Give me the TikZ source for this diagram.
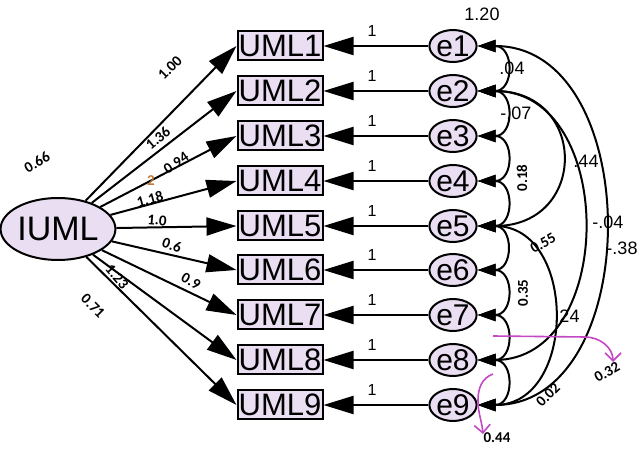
\documentclass[tikz,border=0pt]{standalone}
\usepackage{fontspec}
\setmainfont{Liberation Sans}
\newfontfamily\calib{Carlito}
\usetikzlibrary{arrows.meta,shapes.geometric}

\definecolor{latfill}{RGB}{234,222,242}
\definecolor{annot}{RGB}{196,72,196}
\definecolor{faint}{RGB}{190,120,60}

\begin{document}
\begin{tikzpicture}[x=0.5pt,y=-0.5pt,
    obs/.style={draw,line width=1pt,fill=latfill,minimum width=42.5pt,minimum height=14.5pt,inner sep=0pt,font=\fontsize{15.5}{15.5}\selectfont},
    err/.style={draw,line width=1pt,ellipse,fill=latfill,minimum width=18.5pt,minimum height=16pt,inner sep=0pt,font=\fontsize{15}{15}\selectfont},
    load/.style={-{Triangle[length=15pt,width=9pt]},line width=1pt},
    cov/.style={{Triangle[length=9pt,width=6pt]}-{Triangle[length=9pt,width=6pt]},line width=1pt},
    coef/.style={inner sep=0.5pt,font=\calib\bfseries\fontsize{7.5}{7.5}\selectfont},
    est/.style={inner sep=0.5pt,font=\fontsize{9}{9}\selectfont},
    one/.style={font=\fontsize{8}{8}\selectfont},
    annotarrow/.style={annot,line width=0.8pt,-{Straight Barb[length=4pt,width=8pt]}}]
  \useasboundingbox (0,0) rectangle (644,449);

  % Latent variable
  \node[draw,line width=1pt,ellipse,fill=latfill,minimum width=55pt,minimum height=31pt,inner sep=0pt,font=\fontsize{17}{17}\selectfont] (IUML) at (58,229) {IUML};

  % Observed items
  \node[obs] (UML1) at (280,46) {UML1};
  \node[obs] (UML2) at (280,91) {UML2};
  \node[obs] (UML3) at (280,136) {UML3};
  \node[obs] (UML4) at (280,181) {UML4};
  \node[obs] (UML5) at (280,226) {UML5};
  \node[obs] (UML6) at (280,270) {UML6};
  \node[obs] (UML7) at (280,315) {UML7};
  \node[obs] (UML8) at (280,360) {UML8};
  \node[obs] (UML9) at (280,405) {UML9};

  % Error terms
  \node[err] (e1) at (453,46) {e1};
  \node[err] (e2) at (453,91) {e2};
  \node[err] (e3) at (453,136) {e3};
  \node[err] (e4) at (453,181) {e4};
  \node[err] (e5) at (453,226) {e5};
  \node[err] (e6) at (453,270) {e6};
  \node[err] (e7) at (453,315) {e7};
  \node[err] (e8) at (453,360) {e8};
  \node[err] (e9) at (453,405) {e9};

  % Loadings
  \draw[load] (IUML) -- (UML1.west);
  \draw[load] (IUML) -- (UML2.west);
  \draw[load] (IUML) -- (UML3.west);
  \draw[load] (IUML) -- (UML4.west);
  \draw[load] (IUML) -- (UML5.west);
  \draw[load] (IUML) -- (UML6.west);
  \draw[load] (IUML) -- (UML7.west);
  \draw[load] (IUML) -- (UML8.west);
  \draw[load] (IUML) -- (UML9.west);

  % Error paths
  \draw[load] (e1) -- (UML1);
  \draw[load] (e2) -- (UML2);
  \draw[load] (e3) -- (UML3);
  \draw[load] (e4) -- (UML4);
  \draw[load] (e5) -- (UML5);
  \draw[load] (e6) -- (UML6);
  \draw[load] (e7) -- (UML7);
  \draw[load] (e8) -- (UML8);
  \draw[load] (e9) -- (UML9);
  \node[one] at (372,31) {1};
  \node[one] at (372,76) {1};
  \node[one] at (372,121) {1};
  \node[one] at (372,166) {1};
  \node[one] at (372,211) {1};
  \node[one] at (372,255) {1};
  \node[one] at (372,300) {1};
  \node[one] at (372,345) {1};
  \node[one] at (372,390) {1};

  % Covariances between neighbours
  \draw[cov] (e1.east) to[out=0,in=0,looseness=2.1] (e2.east);
  \draw[cov] (e2.east) to[out=0,in=0,looseness=2.1] (e3.east);
  \draw[cov] (e3.east) to[out=0,in=0,looseness=2.1] (e4.east);
  \draw[cov] (e4.east) to[out=0,in=0,looseness=2.1] (e5.east);
  \draw[cov] (e5.east) to[out=0,in=0,looseness=2.1] (e6.east);
  \draw[cov] (e6.east) to[out=0,in=0,looseness=2.1] (e7.east);
  \draw[cov] (e7.east) to[out=0,in=0,looseness=2.1] (e8.east);
  \draw[cov] (e8.east) to[out=0,in=0,looseness=2.1] (e9.east);

  % Long covariances
  \draw[cov] (e1.east) to[out=0,in=0,looseness=1.2] (e9.east);
  \draw[cov] (e2.east) to[out=0,in=0,looseness=1.33] (e8.east);
  \draw[cov] (e2.east) to[out=0,in=0,looseness=2.1] (e5.east);
  \draw[cov] (e5.east) to[out=0,in=0,looseness=1.43] (e9.east);

  % Loading labels
  \node[coef] at (37,162) [rotate=30] {0.66};
  \node[coef] at (170,68) [rotate=45] {1.00};
  \node[coef] at (158,138) [rotate=40] {1.36};
  \node[coef,faint] at (151,181) {2};
  \node[coef] at (176,163) [rotate=35] {0.94};
  \node[coef] at (150,199) [rotate=15] {1.18};
  \node[coef] at (157,220) [rotate=-5] {1.0};
  \node[coef] at (172,245) [rotate=-20] {0.6};
  \node[coef] at (191,281) [rotate=-30] {0.9};
  \node[coef] at (117,277) [rotate=-50] {1.23};
  \node[coef] at (93,306) [rotate=-45] {0.71};

  % Covariance labels
  \node[est] at (482,14) {1.20};
  \node[est] at (512,68) {.04};
  \node[est] at (516,113) {-.07};
  \node[est] at (586,161) {.44};
  \node[est] at (608,222) {-.04};
  \node[est] at (622,248) {-.38};
  \node[est] at (567,316) {.24};
  \node[coef] at (522,178) [rotate=90] {0.18};
  \node[coef] at (543,243) [rotate=30] {0.55};
  \node[coef] at (523,293) [rotate=90] {0.35};
  \node[coef] at (607,372) [rotate=30] {0.32};
  \node[coef] at (548,395) [rotate=45] {0.02};
  \node[coef] at (497,438) {0.44};

  % Hand-drawn marks
  \coordinate (m1) at (493,336);
  \coordinate (m2) at (613,362);
  \coordinate (m3) at (493,374);
  \coordinate (m4) at (483,434);
  \draw[annotarrow] (m1) -- (585,337) to[out=0,in=90] (m2);
  \draw[annotarrow] (m3) to[out=200,in=90] (478,400) to[out=-90,in=95] (m4);
\end{tikzpicture}
\end{document}
